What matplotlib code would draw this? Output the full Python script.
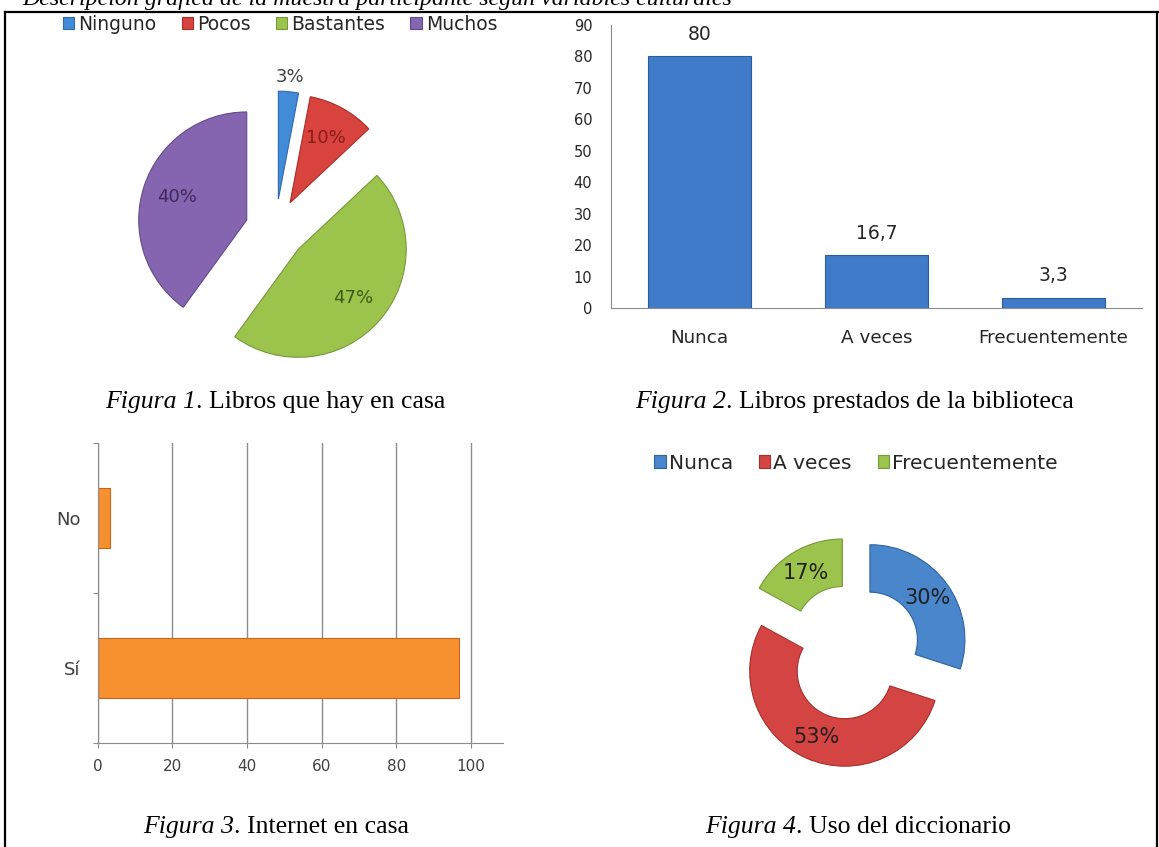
import numpy as np
import matplotlib
matplotlib.use("Agg")
import matplotlib.pyplot as plt
from matplotlib.lines import Line2D

# Datos de las cuatro figuras
libros_cat = ["Ninguno", "Pocos", "Bastantes", "Muchos"]
libros_pct = [3, 10, 47, 40]

prestamo_cat = ["Nunca", "A veces", "Frecuentemente"]
prestamo_val = [80, 16.7, 3.3]

internet_cat = ["Sí", "No"]
internet_val = [96.7, 3.3]

dicc_cat = ["Nunca", "A veces", "Frecuentemente"]
dicc_pct = [30, 53, 17]

titulo = "Descripción gráfica de la muestra participante según variables culturales"
pies = [
    ("Figura 1", ". Libros que hay en casa"),
    ("Figura 2", ". Libros prestados de la biblioteca"),
    ("Figura 3", ". Internet en casa"),
    ("Figura 4", ". Uso del diccionario"),
]

W, H = 1159, 847
TXT = "#262626"
GRIS = "#8C8C8C"
plt.rcParams["font.family"] = ["DejaVu Sans"]


# Conversión de píxeles (desde arriba a la izquierda) a coordenadas de figura
def caja(izq, arriba, der, abajo):
    return [izq / W, 1 - abajo / H, (der - izq) / W, (abajo - arriba) / H]


def fx(x):
    return x / W


def fy(y):
    return 1 - y / H


fig = plt.figure(figsize=(W / 100, H / 100), dpi=100)

# Marco de la tabla y título (cortado por arriba)
for xs, ys in [((5, 1158), (12, 12)), ((5, 5), (12, 847)), ((1157, 1157), (12, 847))]:
    fig.add_artist(Line2D([fx(v) for v in xs], [fy(v) for v in ys], color="black", lw=1.6))
fig.text(fx(22), fy(5), titulo, fontsize=17.2, style="italic", family="Liberation Serif",
         va="baseline", ha="left")

# Pies de figura: parte en cursiva + resto normal
for (it, resto), (xs, yb) in zip(pies, [(196, 408), (726, 408), (234, 833), (796, 833)]):
    fig.text(fx(xs), fy(yb), it, fontsize=18.5, style="italic", family="Liberation Serif",
             ha="right", va="baseline")
    fig.text(fx(xs), fy(yb), resto, fontsize=18.5, family="Liberation Serif",
             ha="left", va="baseline")

# Figura 1: gráfico circular separado
cx, cy, r = 275.5, 229.3, 108
L = 1.6
ax1 = fig.add_axes(caja(cx - L * r, cy - L * r, cx + L * r, cy + L * r))
col1 = ["#428BD6", "#D8433D", "#9CC44C", "#8665B0"]
borde1 = ["#2E6AAE", "#A82E2A", "#76983A", "#634A88"]
txt1 = ["#404040", "#8B1A1A", "#3E5A1A", "#3D2A5C"]
w1, t1, a1 = ax1.pie(libros_pct, colors=col1, startangle=90, counterclock=False,
                     explode=[0.28] * 4, autopct=lambda p: f"{p:.0f}%", pctdistance=0.68,
                     wedgeprops=dict(linewidth=0.8))
for w, b in zip(w1, borde1):
    w.set_edgecolor(b)
for a, c in zip(a1, txt1):
    a.set_color(c)
    a.set_fontsize(13)
# la etiqueta del 3% va fuera del sector
ang = np.deg2rad(90 - libros_pct[0] * 3.6 / 2)
a1[0].set_position((1.42 * np.cos(ang), 1.42 * np.sin(ang)))
ax1.set_xlim(-L, L)
ax1.set_ylim(-L, L)
fig.legend(w1, libros_cat, loc="center", bbox_to_anchor=(fx(280), fy(24)), ncol=4,
           frameon=False, fontsize=13.5, handlelength=0.62, handleheight=0.62,
           handletextpad=0.2, columnspacing=1.35, labelcolor=TXT)

# Figura 2: columnas
ax2 = fig.add_axes(caja(611, 25, 1142, 308))
x = np.arange(len(prestamo_cat))
barras = ax2.bar(x, prestamo_val, width=0.58, color="#3F7BC8", edgecolor="#2C5C9C", linewidth=0.8)
ax2.set_xlim(-0.5, 2.5)
ax2.set_ylim(0, 90)
ax2.set_yticks(range(0, 91, 10))
ax2.set_xticks(x, prestamo_cat)
for s in ["top", "right"]:
    ax2.spines[s].set_visible(False)
for s in ["left", "bottom"]:
    ax2.spines[s].set_color(GRIS)
ax2.tick_params(length=0, labelcolor=TXT)
ax2.tick_params(axis="y", pad=13.5, labelsize=10.5)
ax2.tick_params(axis="x", pad=15, labelsize=13.2)
ax2.bar_label(barras, labels=[f"{v:g}".replace(".", ",") for v in prestamo_val],
              padding=9, fontsize=13.5, color=TXT)

# Figura 3: barras horizontales
ax3 = fig.add_axes(caja(97.7, 442.7, 503, 743))
y = np.arange(len(internet_cat))
ax3.barh(y, internet_val, height=0.4, color="#F7912F", edgecolor="#C8651B", linewidth=0.8)
ax3.set_ylim(-0.5, 1.5)
ax3.set_xlim(0, 108.6)
ax3.set_xticks(range(0, 101, 20))
ax3.xaxis.grid(True, color=GRIS, lw=1)
ax3.set_axisbelow(True)
ax3.set_yticks([-0.5, 0.5, 1.5])
ax3.set_yticklabels([])
ax3.set_yticks(y, minor=True)
ax3.set_yticklabels(internet_cat, minor=True)
for s in ["top", "right"]:
    ax3.spines[s].set_visible(False)
for s in ["left", "bottom"]:
    ax3.spines[s].set_color(GRIS)
ax3.tick_params(axis="y", which="major", length=3.6, color=GRIS)
ax3.tick_params(axis="y", which="minor", length=0, pad=12.5, labelsize=13, labelcolor="#404040")
ax3.tick_params(axis="x", length=3.6, color=GRIS, pad=8, labelsize=11, labelcolor="#404040")

# Figura 4: anillo separado
dx, dy, R = 853, 652, 95
ax4 = fig.add_axes(caja(dx - L * R, dy - L * R, dx + L * R, dy + L * R))
col4 = ["#4A86CC", "#D44442", "#9CC44C"]
borde4 = ["#30639E", "#A52F2D", "#76983A"]
w4, t4, a4 = ax4.pie(dicc_pct, colors=col4, startangle=90, counterclock=False,
                     explode=[0.22] * 3, autopct=lambda p: f"{p:.0f}%", pctdistance=0.75,
                     wedgeprops=dict(width=0.5, linewidth=0.8))
for w, b in zip(w4, borde4):
    w.set_edgecolor(b)
for a in a4:
    a.set_color("#202020")
    a.set_fontsize(15)
ax4.set_xlim(-L, L)
ax4.set_ylim(-L, L)
fig.legend(w4, dicc_cat, loc="center", bbox_to_anchor=(fx(856), fy(463)), ncol=3,
           frameon=False, fontsize=14.5, handlelength=0.55, handleheight=0.6,
           handletextpad=0.15, columnspacing=1.3, labelcolor=TXT)

fig.savefig("out.png", dpi=100)
